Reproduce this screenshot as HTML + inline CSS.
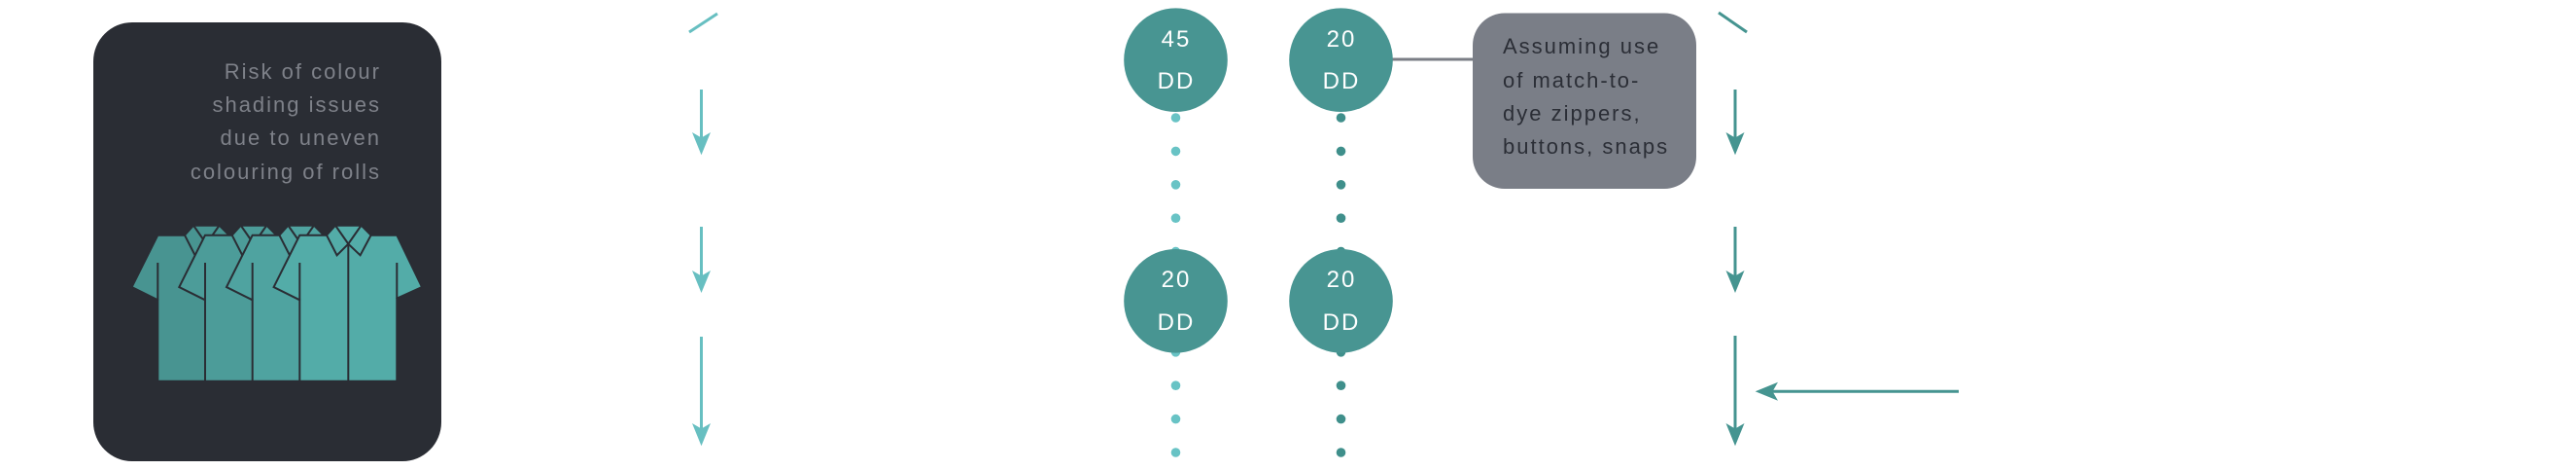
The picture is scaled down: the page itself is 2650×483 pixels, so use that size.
<!DOCTYPE html>
<html>
<head>
<meta charset="utf-8">
<style>
  html, body { margin: 0; padding: 0; background: #ffffff; }
  body { width: 2650px; height: 483px; overflow: hidden; }
  svg { display: block; }
  .t { font-family: "Liberation Sans", sans-serif; }
</style>
</head>
<body>
<svg width="2650" height="483" viewBox="0 0 2650 483" xmlns="http://www.w3.org/2000/svg">
  <rect x="0" y="0" width="2650" height="483" fill="#ffffff"/>

  <!-- Dark card -->
  <rect x="96" y="23" width="358" height="451" rx="40" ry="40" fill="#2a2d34"/>
  <g class="t" font-size="22" fill="#7e8189" text-anchor="end" letter-spacing="2">
    <text x="392" y="81">Risk of colour</text>
    <text x="392" y="115">shading issues</text>
    <text x="392" y="149">due to uneven</text>
    <text x="392" y="184">colouring of rolls</text>
  </g>

  <!-- Shirts -->
  <g stroke="#2a2d34" stroke-width="2" stroke-linejoin="miter">
    <!-- shirt 1 X=162.3 -->
    <g fill="#489491" transform="translate(162.3,0)">
      <path d="M0,241.7 L27.7,241.7 L36.7,231.7 L63.3,231.7 L73.3,241.7 L100,241.7 L125.7,295 L100,306.7 L100,391.7 L0,391.7 L0,308.3 L-26.7,295 Z"/>
      <path d="M36.7,231.7 L63.3,231.7 L50,250.7 Z"/>
      <path d="M36.7,231.7 L27.7,241.7 L38.3,262.3 L50,250.7 Z"/>
      <path d="M63.3,231.7 L73.3,241.7 L62.3,262.3 L50,250.7 Z"/>
      <path d="M0,270 L0,308.3 M100,270 L100,306.7 M50,250.7 L50,391.7" fill="none"/>
    </g>
    <!-- shirt 2 -->
    <g fill="#4c9c99" transform="translate(211,0)">
      <path d="M0,241.7 L27.7,241.7 L36.7,231.7 L63.3,231.7 L73.3,241.7 L100,241.7 L125.7,295 L100,306.7 L100,391.7 L0,391.7 L0,308.3 L-26.7,295 Z"/>
      <path d="M36.7,231.7 L63.3,231.7 L50,250.7 Z"/>
      <path d="M36.7,231.7 L27.7,241.7 L38.3,262.3 L50,250.7 Z"/>
      <path d="M63.3,231.7 L73.3,241.7 L62.3,262.3 L50,250.7 Z"/>
      <path d="M0,270 L0,308.3 M100,270 L100,306.7 M50,250.7 L50,391.7" fill="none"/>
    </g>
    <!-- shirt 3 -->
    <g fill="#4fa3a0" transform="translate(259.7,0)">
      <path d="M0,241.7 L27.7,241.7 L36.7,231.7 L63.3,231.7 L73.3,241.7 L100,241.7 L125.7,295 L100,306.7 L100,391.7 L0,391.7 L0,308.3 L-26.7,295 Z"/>
      <path d="M36.7,231.7 L63.3,231.7 L50,250.7 Z"/>
      <path d="M36.7,231.7 L27.7,241.7 L38.3,262.3 L50,250.7 Z"/>
      <path d="M63.3,231.7 L73.3,241.7 L62.3,262.3 L50,250.7 Z"/>
      <path d="M0,270 L0,308.3 M100,270 L100,306.7 M50,250.7 L50,391.7" fill="none"/>
    </g>
    <!-- shirt 4 -->
    <g fill="#53aca8" transform="translate(308.3,0)">
      <path d="M0,241.7 L27.7,241.7 L36.7,231.7 L63.3,231.7 L73.3,241.7 L100,241.7 L125.7,295 L100,306.7 L100,391.7 L0,391.7 L0,308.3 L-26.7,295 Z"/>
      <path d="M36.7,231.7 L63.3,231.7 L50,250.7 Z"/>
      <path d="M36.7,231.7 L27.7,241.7 L38.3,262.3 L50,250.7 Z"/>
      <path d="M63.3,231.7 L73.3,241.7 L62.3,262.3 L50,250.7 Z"/>
      <path d="M0,270 L0,308.3 M100,270 L100,306.7 M50,250.7 L50,391.7" fill="none"/>
    </g>
  </g>

  <!-- Left arrow column (light teal) -->
  <g stroke="#67bfc1" stroke-width="3" fill="none">
    <line x1="709" y1="33" x2="738" y2="14"/>
    <line x1="721.5" y1="92" x2="721.5" y2="142"/>
    <line x1="721.5" y1="233" x2="721.5" y2="284"/>
    <line x1="721.5" y1="346" x2="721.5" y2="441"/>
  </g>
  <g fill="#67bfc1">
    <path d="M721.5,159.3 L712,136 L721.5,141.5 L731,136 Z"/>
    <path d="M721.5,301 L712,278 L721.5,283.5 L731,278 Z"/>
    <path d="M721.5,458.3 L712,435 L721.5,440.5 L731,435 Z"/>
  </g>

  <!-- Dotted columns -->
  <g fill="#68c3c5">
    <circle cx="1209.5" cy="121" r="4.8"/>
    <circle cx="1209.5" cy="155.4" r="4.8"/>
    <circle cx="1209.5" cy="189.8" r="4.8"/>
    <circle cx="1209.5" cy="224.2" r="4.8"/>
    <circle cx="1209.5" cy="258.6" r="4.8"/>
    <circle cx="1209.5" cy="361.8" r="4.8"/>
    <circle cx="1209.5" cy="396.2" r="4.8"/>
    <circle cx="1209.5" cy="430.6" r="4.8"/>
    <circle cx="1209.5" cy="465" r="4.8"/>
  </g>
  <g fill="#3f8f8b">
    <circle cx="1379.5" cy="121" r="4.8"/>
    <circle cx="1379.5" cy="155.4" r="4.8"/>
    <circle cx="1379.5" cy="189.8" r="4.8"/>
    <circle cx="1379.5" cy="224.2" r="4.8"/>
    <circle cx="1379.5" cy="258.6" r="4.8"/>
    <circle cx="1379.5" cy="361.8" r="4.8"/>
    <circle cx="1379.5" cy="396.2" r="4.8"/>
    <circle cx="1379.5" cy="430.6" r="4.8"/>
    <circle cx="1379.5" cy="465" r="4.8"/>
  </g>

  <!-- Connector to grey box -->
  <line x1="1430" y1="61" x2="1516" y2="61" stroke="#7a7d85" stroke-width="3"/>

  <!-- Circles -->
  <g fill="#489592">
    <circle cx="1209.5" cy="61.7" r="53.3"/>
    <circle cx="1379.5" cy="61.7" r="53.3"/>
    <circle cx="1209.5" cy="309.3" r="53.3"/>
    <circle cx="1379.5" cy="309.3" r="53.3"/>
  </g>
  <g class="t" font-size="24" fill="#ffffff" text-anchor="middle" letter-spacing="2">
    <text x="1210" y="48">45</text>
    <text x="1210" y="91">DD</text>
    <text x="1380" y="48">20</text>
    <text x="1380" y="91">DD</text>
    <text x="1210" y="295">20</text>
    <text x="1210" y="339">DD</text>
    <text x="1380" y="295">20</text>
    <text x="1380" y="339">DD</text>
  </g>

  <!-- Grey note box -->
  <rect x="1515" y="13.5" width="230" height="180.5" rx="33" ry="33" fill="#7a7e87"/>
  <g class="t" font-size="22" fill="#2b2e36" letter-spacing="2">
    <text x="1546" y="55">Assuming use</text>
    <text x="1546" y="90">of match-to-</text>
    <text x="1546" y="124">dye zippers,</text>
    <text x="1546" y="158">buttons, snaps</text>
  </g>

  <!-- Right arrow column (darker teal) -->
  <g stroke="#459490" stroke-width="3" fill="none">
    <line x1="1768" y1="13" x2="1797" y2="33"/>
    <line x1="1785" y1="92" x2="1785" y2="142"/>
    <line x1="1785" y1="233" x2="1785" y2="284"/>
    <line x1="1785" y1="345" x2="1785" y2="441"/>
    <line x1="2015" y1="402.3" x2="1823" y2="402.3"/>
  </g>
  <g fill="#459490">
    <path d="M1785,159.3 L1775.5,136 L1785,141.5 L1794.5,136 Z"/>
    <path d="M1785,301 L1775.5,278 L1785,283.5 L1794.5,278 Z"/>
    <path d="M1785,458.3 L1775.5,435 L1785,440.5 L1794.5,435 Z"/>
    <path d="M1805.7,402.3 L1829,392.8 L1823.5,402.3 L1829,411.8 Z"/>
  </g>
</svg>
</body>
</html>
